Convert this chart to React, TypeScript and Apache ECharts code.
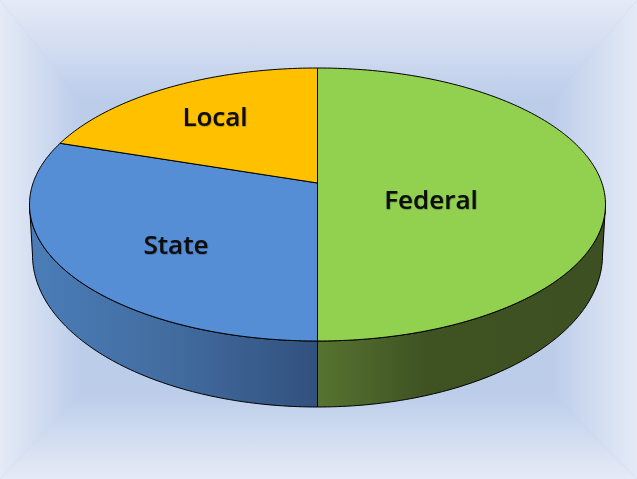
import React, { useEffect, useRef } from "react";
import * as echarts from "echarts";

const categories = ["Federal", "State", "Local"];
const shares = [50, 32.4, 17.6];
const topColors = ["#92d050", "#558ed5", "#ffc000"];
const wallStops = [
  [[0, "#567430"], [0.38, "#3e5222"], [1, "#3d5021"]],
  [[0, "#4a7db8"], [0.5, "#426c9f"], [1, "#31517e"]],
  [[0, "#000"], [1, "#000"]],
];
const labelAt = [[431, 199], [176, 244], [215, 116]];

const CX = 317.5, CY = 204.5, RX = 288, RY = 136.5;
const APEX_Y = 183;
const BCY = 255, BRX = 285, BRY = 152;
const W = 637, H = 479;

const rad = (d: number) => (d * Math.PI) / 180;
const pt = (t: number, cy = CY, rx = RX, ry = RY) => [CX + rx * Math.sin(rad(t)), cy - ry * Math.cos(rad(t))];

function arcPts(a: number, b: number, cy = CY, rx = RX, ry = RY) {
  const out: number[][] = [];
  const n = Math.max(2, Math.ceil(Math.abs(b - a) / 1));
  for (let i = 0; i <= n; i++) out.push(pt(a + ((b - a) * i) / n, cy, rx, ry));
  return out;
}

function App() {
  const ref = useRef<HTMLDivElement>(null);
  useEffect(() => {
    const chart = echarts.init(ref.current!, null, { renderer: "svg" });
    const total = shares.reduce((a, b) => a + b, 0);
    const spans: number[][] = [];
    let acc = 0;
    shares.forEach((v) => {
      const s = (acc / total) * 360;
      acc += v;
      spans.push([s, (acc / total) * 360]);
    });

    const bgEdge = "#e4eaf6", bgMid = "#bccdea";
    const mT = 100, mB = 85, mL = 80, mR = 85;
    const grad = (x: number, y: number, x2: number, y2: number) =>
      new echarts.graphic.LinearGradient(x, y, x2, y2, [
        { offset: 0, color: bgEdge },
        { offset: 0.1, color: "#e1e8f5" },
        { offset: 1, color: bgMid },
      ]);
    const backdrop = [
      { type: "rect", silent: true, z: -10, shape: { x: 0, y: 0, width: W, height: H }, style: { fill: bgMid } },
      { type: "polygon", silent: true, z: -9, shape: { points: [[0, 0], [W, 0], [W - mR, mT], [mL, mT]] }, style: { fill: grad(0, 0, 0, 1) } },
      { type: "polygon", silent: true, z: -9, shape: { points: [[0, H], [W, H], [W - mR, H - mB], [mL, H - mB]] }, style: { fill: grad(0, 1, 0, 0) } },
      { type: "polygon", silent: true, z: -9, shape: { points: [[0, 0], [0, H], [mL, H - mB], [mL, mT]] }, style: { fill: grad(0, 0, 1, 0) } },
      { type: "polygon", silent: true, z: -9, shape: { points: [[W, 0], [W, H], [W - mR, H - mB], [W - mR, mT]] }, style: { fill: grad(1, 0, 0, 0) } },
    ];

    chart.setOption({
      animation: false,
      graphic: { elements: backdrop },
      series: [
        {
          type: "custom",
          coordinateSystem: "none",
          silent: true,
          clip: false,
          data: categories.map((name, i) => ({ name, value: shares[i] })),
          renderItem: (params: any) => {
            const i = params.dataIndex;
            const [a, b] = spans[i];
            const children: any[] = [];
            const lo = Math.max(a, 90), hi = Math.min(b, 270);
            if (hi > lo) {
              const outer = [...arcPts(lo, hi), ...arcPts(hi, lo, BCY, BRX, BRY)];
              const stops = wallStops[i].map((s: any) => ({ offset: s[0], color: s[1] }));
              children.push({
                type: "polygon",
                shape: { points: outer },
                style: {
                  fill: new echarts.graphic.LinearGradient(0, 0, 1, 0, stops),
                  stroke: "#000",
                  lineWidth: 1,
                },
              });
            }
            children.push({
              type: "polygon",
              shape: { points: [[CX, APEX_Y], ...arcPts(a, b)] },
              style: { fill: topColors[i], stroke: "#000", lineWidth: 1 },
            });
            return { type: "group", children };
          },
        },
        {
          type: "custom",
          coordinateSystem: "none",
          silent: true,
          z: 5,
          data: categories.map((name, i) => ({ name, value: shares[i] })),
          renderItem: (params: any) => {
            const i = params.dataIndex;
            return {
              type: "text",
              x: labelAt[i][0],
              y: labelAt[i][1],
              style: {
                text: categories[i],
                fill: "#0a0a0a",
                font: "600 26px 'Open Sans'",
                align: "center",
                verticalAlign: "middle",
                textShadowColor: "rgba(0,0,0,0.45)",
                textShadowBlur: 1.5,
                textShadowOffsetX: 0.5,
                textShadowOffsetY: 0.5,
              },
            };
          },
        },
      ],
    });
    return () => chart.dispose();
  }, []);
  return <div ref={ref} style={{ position: "fixed", left: 0, top: 0, width: W, height: H }} />;
}

export default App;
